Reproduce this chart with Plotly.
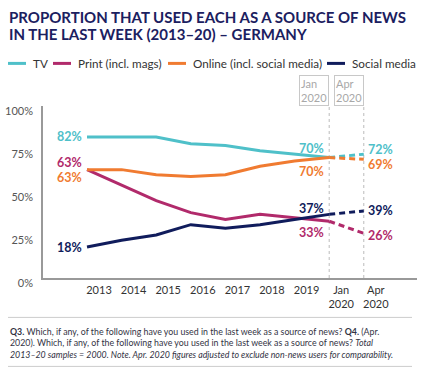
import plotly.graph_objects as go

# ---- data ----
periods = ["2013", "2014", "2015", "2016", "2017", "2018", "2019", "Jan<br>2020", "Apr<br>2020"]
tv =     [82, 82, 82, 78, 77, 74, 72, 70, 72]
print_ = [63, 54, 45, 38, 34, 37, 35, 33, 26]
online = [63, 63, 60, 59, 60, 65, 68, 70, 69]
social = [18, 22, 25, 31, 29, 31, 34, 37, 39]
series_names = ["TV", "Print (incl. mags)", "Online (incl. social media)", "Social media"]
y_ticks = [0, 25, 50, 75, 100]
y_tick_text = ["0%", "25%", "50%", "75%", "100%"]
title_lines = ["PROPORTION THAT USED EACH AS A SOURCE OF NEWS", "IN THE LAST WEEK (2013–20) – GERMANY"]

colors = ["#4fc0c9", "#b12a6b", "#f07b31", "#101c5c"]
series = [tv, print_, online, social]
FONT = "Lato"
NAVY = "#1b2060"

W, H = 432, 373
L, R, T, B = 43, 15, 105.6, 95.4
plot_h = H - T - B
plot_w = W - L - R

def py(p):  # pixel y -> paper
    return (H - B - p) / plot_h

def px(p):  # pixel x -> paper
    return (p - L) / plot_w

xs = list(range(len(periods)))
n_hist = 8  # solid through Jan 2020 (index 7)

fig = go.Figure()
for name, vals, col in zip(series_names, series, colors):
    fig.add_trace(go.Scatter(x=xs[:n_hist], y=vals[:n_hist], mode="lines",
                             line=dict(color=col, width=3), name=name, showlegend=False,
                             hoverinfo="skip"))
    fig.add_trace(go.Scatter(x=xs[n_hist - 1:], y=vals[n_hist - 1:], mode="lines",
                             line=dict(color=col, width=3, dash="6px,4px"), showlegend=False,
                             hoverinfo="skip"))

ann = []
# data labels: (series index, point index, anchor, yshift)
label_spec = [
    (0, 0, "right", 0), (1, 0, "right", 7), (2, 0, "right", -7.5), (3, 0, "right", 0),
    (0, 7, "right", 9), (2, 7, "right", -13.5), (3, 7, "right", 6), (1, 7, "right", -11),
    (0, 8, "left", 4.5), (2, 8, "left", -5.5), (3, 8, "left", 0), (1, 8, "left", -2),
]
for si, pi, anchor, ys in label_spec:
    ann.append(dict(x=xs[pi], y=series[si][pi], xref="x", yref="y",
                    text=f"<b>{series[si][pi]}%</b>", showarrow=False,
                    xanchor=anchor, yanchor="middle", borderpad=0,
                    xshift=-4 if anchor == "right" else 3, yshift=ys,
                    font=dict(family=FONT, size=12.5, color=colors[si])))

# Jan / Apr boxes
for xi in (7, 8):
    ann.append(dict(x=xs[xi], y=1, xref="x", yref="paper", text=periods[xi],
                    showarrow=False, xanchor="right", yanchor="bottom", align="left",
                    font=dict(family=FONT, size=11, color="#a8a8a8"),
                    bordercolor="#c8c8c8", borderwidth=1, borderpad=1, bgcolor="white"))

# title (two lines)
for i, line in enumerate(title_lines):
    ann.append(dict(x=px(8), y=py(16.5 + 17.5 * i), xref="paper", yref="paper",
                    text=f"<b>{line}</b>", showarrow=False, xanchor="left", yanchor="middle",
                    borderpad=0, font=dict(family=FONT, size=15, color=NAVY)))

# legend (manual)
leg_x = [8, 53, 168, 327]
shapes = []
for lx, name, col in zip(leg_x, series_names, colors):
    shapes.append(dict(type="line", xref="paper", yref="paper",
                       x0=px(lx), x1=px(lx + 18), y0=py(63), y1=py(63),
                       line=dict(color=col, width=3)))
    ann.append(dict(x=px(lx + 23), y=py(63), xref="paper", yref="paper", text=name,
                    showarrow=False, xanchor="left", yanchor="middle",
                    font=dict(family=FONT, size=11.7, color="#333333")))

# vertical dotted lines
for xi in (7, 8):
    shapes.append(dict(type="line", xref="x", yref="paper", x0=xs[xi], x1=xs[xi], y0=0, y1=1,
                       line=dict(color="#bbbbbb", width=1, dash="dot"), layer="below"))

# footer rules
for p in (317, 366):
    shapes.append(dict(type="line", xref="paper", yref="paper", x0=px(8), x1=px(412),
                       y0=py(p), y1=py(p), line=dict(color="#cccccc", width=1)))

footer = ("<b>Q3.</b> Which, if any, of the following have you used in the last week as a source of news? <b>Q4.</b> (Apr.<br>"
          "2020). Which, if any, of the following have you used in the last week as a source of news? <i>Total<br>"
          "2013–20 samples = 2000. Note. Apr. 2020 figures adjusted to exclude non-news users for comparability.</i>")
ann.append(dict(x=px(8), y=py(343), xref="paper", yref="paper", text=footer, showarrow=False,
                xanchor="left", yanchor="middle", align="left",
                font=dict(family=FONT, size=8.8, color="#333344")))

fig.update_layout(
    width=W, height=H, margin=dict(l=L, r=R, t=T, b=B, autoexpand=False),
    paper_bgcolor="white", plot_bgcolor="white",
    annotations=ann, shapes=shapes, showlegend=False,
    xaxis=dict(range=[-1.272, 9.538], tickmode="array", tickvals=xs, ticktext=periods,
               showgrid=False, zeroline=False, showline=True, linecolor="#999999", linewidth=1.5,
               ticks="", ticklabelshift=12, ticklabelstandoff=1, automargin=False,
               tickfont=dict(family=FONT, size=11, color="#333333"), fixedrange=True),
    yaxis=dict(range=[0, 100], tickmode="array", tickvals=y_ticks, ticktext=y_tick_text,
               showgrid=False, zeroline=False, showline=True, linecolor="#999999", linewidth=1.5,
               ticks="", ticklabelstandoff=6, ticklabelshift=5, automargin=False,
               tickfont=dict(family=FONT, size=11, color="#555555"), fixedrange=True),
)

fig.write_html("out.html", config={"displayModeBar": False},
               post_script="document.body.style.margin='0';document.body.style.overflow='hidden';")
